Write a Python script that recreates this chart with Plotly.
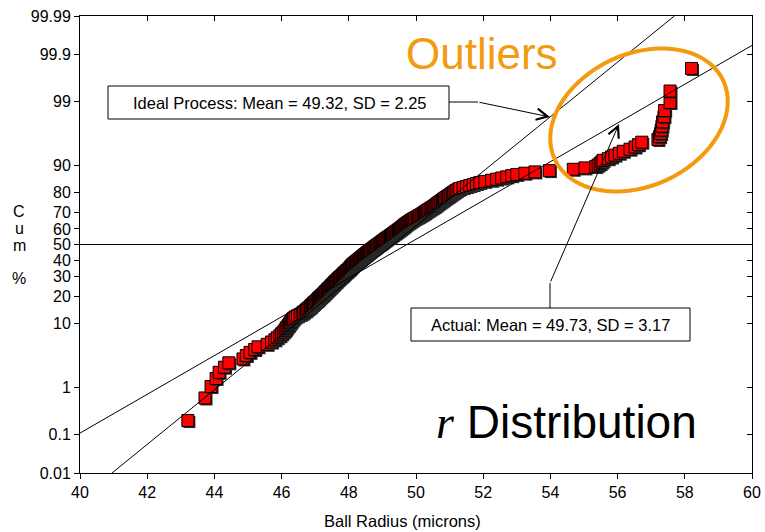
import math
from statistics import NormalDist
import plotly.graph_objects as go

# ---------------- data ----------------
radius = [
    43.21, 43.72, 43.90, 44.05, 44.14, 44.30, 44.43, 44.85, 44.95, 45.06,
    45.20, 45.30, 45.57, 45.70, 45.80, 45.87, 45.95, 46.00, 46.05, 46.10,
    46.13, 46.16, 46.20, 46.23, 46.26, 46.29, 46.32, 46.35, 46.40, 46.47,
    46.55, 46.61, 46.65, 46.70, 46.74, 46.78, 46.82, 46.86, 46.88, 46.92,
    46.95, 46.98, 47.02, 47.05, 47.08, 47.10, 47.13, 47.16, 47.19, 47.22,
    47.25, 47.27, 47.30, 47.32, 47.35, 47.37, 47.40, 47.42, 47.45, 47.47,
    47.49, 47.52, 47.54, 47.56, 47.58, 47.61, 47.63, 47.65, 47.68, 47.70,
    47.72, 47.75, 47.77, 47.80, 47.82, 47.84, 47.86, 47.88, 47.91, 47.93,
    47.95, 47.98, 48.00, 48.02, 48.04, 48.06, 48.07, 48.09, 48.11, 48.13,
    48.15, 48.18, 48.20, 48.23, 48.25, 48.28, 48.30, 48.33, 48.35, 48.37,
    48.40, 48.42, 48.44, 48.47, 48.49, 48.52, 48.54, 48.56, 48.59, 48.61,
    48.64, 48.66, 48.69, 48.72, 48.74, 48.77, 48.79, 48.82, 48.84, 48.87,
    48.90, 48.93, 48.95, 48.98, 49.00, 49.03, 49.05, 49.08, 49.10, 49.13,
    49.16, 49.19, 49.22, 49.24, 49.27, 49.30, 49.32, 49.35, 49.38, 49.40,
    49.43, 49.46, 49.48, 49.51, 49.54, 49.56, 49.59, 49.61, 49.64, 49.66,
    49.68, 49.71, 49.74, 49.77, 49.80, 49.83, 49.86, 49.89, 49.92, 49.96,
    50.00, 50.04, 50.08, 50.11, 50.15, 50.18, 50.22, 50.25, 50.28, 50.31,
    50.35, 50.38, 50.42, 50.45, 50.49, 50.53, 50.56, 50.59, 50.62, 50.65,
    50.68, 50.72, 50.75, 50.79, 50.82, 50.85, 50.89, 50.93, 50.97, 51.01,
    51.04, 51.08, 51.12, 51.16, 51.20, 51.25, 51.30, 51.40, 51.50, 51.60,
    51.70, 51.80, 51.90, 52.05, 52.25, 52.40, 52.55, 52.70, 52.85, 53.00,
    53.24, 53.54, 53.97, 54.68, 55.03, 55.35, 55.42, 55.48, 55.53, 55.57,
    55.72, 55.82, 55.92, 56.05, 56.17, 56.37, 56.52, 56.62, 56.72, 57.20,
    57.25, 57.28, 57.30, 57.32, 57.34, 57.38, 57.40, 57.56, 57.56, 58.20,
]
x_ticks = [40, 42, 44, 46, 48, 50, 52, 54, 56, 58, 60]
y_tick_pcts = [0.01, 0.1, 1, 10, 20, 30, 40, 50, 60, 70, 80, 90, 99, 99.9, 99.99]
y_tick_labels = ["0.01", "0.1", "1", "10", "20", "30", "40", "50", "60",
                 "70", "80", "90", "99", "99.9", "99.99"]
ideal_mean, ideal_sd = 49.32, 2.25
actual_mean, actual_sd = 49.73, 3.17

# ---------------- probability-scale transform ----------------
nd = NormalDist()
radius = sorted(radius)
n = len(radius)
z_pts = [nd.inv_cdf((i + 0.5) / n) for i in range(n)]
y_tickvals = [nd.inv_cdf(p / 100.0) for p in y_tick_pcts]
zmin, zmax = y_tickvals[0], y_tickvals[-1]
xmin, xmax = x_ticks[0], x_ticks[-1]

# ---------------- layout geometry ----------------
W, H = 765, 532
L, R, T, B = 80, 13, 16, 59
PW, PH = W - L - R, H - T - B
FONT = "Arial, Liberation Sans, Helvetica, sans-serif"
ORANGE = "#F39A0E"


def pap(px, py):
    return (px - L) / PW, (H - B - py) / PH


# shadow offset (1.5 px right/down) converted to data units
sdx = 1.5 * (xmax - xmin) / PW
sdz = 1.5 * (zmax - zmin) / PH

# interleave shadow + marker per point so later shadows overlap earlier marks
mx, my, mc, mlw = [], [], [], []
for xv, zv in zip(radius, z_pts):
    mx += [xv + sdx, xv]
    my += [zv - sdz, zv]
    mc += ["#2a2a2a", "#FF0000"]
    mlw += [0, 1]

fig = go.Figure()
fig.add_trace(go.Scatter(
    x=mx, y=my, mode="markers",
    marker=dict(symbol="square", size=12, color=mc,
                line=dict(color="black", width=mlw)),
    hoverinfo="skip", showlegend=False))

# fit lines (on overlay axes so top/right ticks render)
for mean, sd in [(ideal_mean, ideal_sd), (actual_mean, actual_sd)]:
    fig.add_trace(go.Scatter(
        x=[mean + sd * zmin, mean + sd * zmax], y=[zmin, zmax], mode="lines",
        line=dict(color="black", width=1), xaxis="x2", yaxis="y2",
        hoverinfo="skip", showlegend=False))

axis_common = dict(showgrid=False, linecolor="black", linewidth=1,
                   tickcolor="black", ticklen=5, tickwidth=1, automargin=False,
                   tickfont=dict(family=FONT, size=16, color="black"))

fig.update_layout(
    width=W, height=H, autosize=False,
    margin=dict(l=L, r=R, t=T, b=B, pad=0, autoexpand=False),
    paper_bgcolor="white", plot_bgcolor="white",
    xaxis=dict(range=[xmin, xmax], tickvals=x_ticks, ticks="outside",
               showline=True, mirror=True, zeroline=False, **axis_common),
    yaxis=dict(range=[zmin, zmax], tickvals=y_tickvals, ticktext=y_tick_labels,
               ticks="outside", showline=True, mirror=True,
               zeroline=True, zerolinecolor="black", zerolinewidth=1,
               **axis_common),
    xaxis2=dict(range=[xmin, xmax], tickvals=x_ticks, ticks="inside",
                overlaying="x", side="top", showticklabels=False,
                automargin=False,
                showgrid=False, zeroline=False, tickcolor="black", ticklen=5),
    yaxis2=dict(range=[zmin, zmax], tickvals=y_tickvals, ticks="inside",
                overlaying="y", side="right", showticklabels=False,
                automargin=False,
                showgrid=False, zeroline=False, tickcolor="black", ticklen=5),
)

# ---------------- shapes ----------------
shapes = []


def rect(x0, y0, x1, y1):
    a, b = pap(x0, y0)
    c, d = pap(x1, y1)
    shapes.append(dict(type="rect", xref="paper", yref="paper", x0=a, y0=d,
                       x1=c, y1=b, line=dict(color="black", width=1),
                       fillcolor="white", layer="above"))


def seg(x0, y0, x1, y1):
    a, b = pap(x0, y0)
    c, d = pap(x1, y1)
    shapes.append(dict(type="line", xref="paper", yref="paper", x0=a, y0=b,
                       x1=c, y1=d, line=dict(color="black", width=1)))


rect(108, 86, 449, 119)
seg(449, 102, 478, 102)
rect(411, 308, 690, 341)
seg(550, 308, 550, 283)

# rotated ellipse around outliers
cx, cy, ea, eb, th = 639, 120, 93, 66, math.radians(25)
pts = []
for k in range(73):
    t = 2 * math.pi * k / 72
    px = cx + ea * math.cos(t) * math.cos(th) - eb * math.sin(t) * math.sin(th)
    py = cy - (ea * math.cos(t) * math.sin(th) + eb * math.sin(t) * math.cos(th))
    u, v = pap(px, py)
    pts.append(f"{u:.5f},{v:.5f}")
shapes.append(dict(type="path", xref="paper", yref="paper",
                   path="M" + " L".join(pts) + " Z",
                   line=dict(color=ORANGE, width=4)))
fig.update_layout(shapes=shapes)

# ---------------- annotations ----------------
ann = []


def text(px, py, s, size, color="black", xanchor="center"):
    u, v = pap(px, py)
    ann.append(dict(xref="paper", yref="paper", x=u, y=v, text=s,
                    showarrow=False, xanchor=xanchor, yanchor="middle",
                    font=dict(family=FONT, size=size, color=color)))


def arrow(hx, hy, tx, ty):
    u, v = pap(hx, hy)
    ann.append(dict(xref="paper", yref="paper", x=u, y=v, text="",
                    showarrow=True, arrowhead=5, arrowsize=2.2, arrowwidth=1,
                    arrowcolor="black", ax=tx - hx, ay=ty - hy,
                    axref="pixel", ayref="pixel", standoff=0))


text(280, 102.5, "Ideal Process: Mean = 49.32, SD = 2.25", 16.5)
text(550, 325, "Actual: Mean = 49.73, SD = 3.17", 16.5)
arrow(550, 117, 478, 102)
arrow(619, 124, 550, 283)
text(482, 54, "Outliers", 44, ORANGE)
text(566, 422,
     "<span style='font-family:Liberation Serif, Times New Roman, serif;"
     "font-style:italic'>r</span> Distribution", 46)
text(402, 521, "Ball Radius (microns)", 16.5)
for ch, yy in [("C", 211.5), ("u", 228.3), ("m", 245), ("%", 278.5)]:
    text(19, yy, ch, 16)

fig.update_layout(annotations=ann)

fig.write_html("out.html")
